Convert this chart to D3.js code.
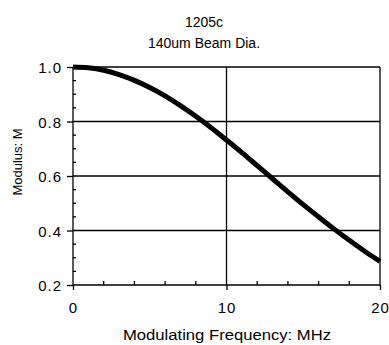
<!DOCTYPE html>
<html>
<head>
<meta charset="utf-8">
<script src="https://cdn.jsdelivr.net/npm/d3@7"></script>
<style>
  body { margin: 0; background: #fff; }
  text { font-family: "Liberation Sans", Arial, sans-serif; fill: #000; }
</style>
</head>
<body>
<div id="chart"></div>
<script>
// data
var freq = [0, 1, 2, 3, 4, 5, 6, 7, 8, 9, 10, 11, 12, 13, 14, 15, 16, 17, 18, 19, 20];
var modulus = [1.0, 0.997, 0.988, 0.972, 0.951, 0.925, 0.894, 0.858, 0.819, 0.777, 0.732,
               0.686, 0.638, 0.590, 0.542, 0.495, 0.450, 0.406, 0.364, 0.324, 0.287];
var xTicks = [0, 10, 20];
var yTicks = [0.2, 0.4, 0.6, 0.8, 1.0];
var xMinor = [2, 4, 6, 8, 12, 14, 16, 18];
var yMinor = [0.25, 0.3, 0.35, 0.45, 0.5, 0.55, 0.65, 0.7, 0.75, 0.85, 0.9, 0.95];
var titleLines = ["1205c", "140um Beam Dia."];

var W = 389, H = 345;
var svg = d3.select("#chart").append("svg").attr("width", W).attr("height", H);

var x = d3.scaleLinear().domain([0, 20]).range([73, 380]);
var y = d3.scaleLinear().domain([0.2, 1.0]).range([285, 67]);

// titles
svg.selectAll("text.title").data(titleLines).enter().append("text")
    .attr("class", "title")
    .attr("x", 204)
    .attr("y", function (d, i) { return 27 + i * 21; })
    .attr("text-anchor", "middle")
    .style("font-size", "14px")
    .text(function (d) { return d; });

// grid lines
svg.selectAll("line.gx").data(xTicks).enter().append("line")
    .attr("x1", function (d) { return x(d); }).attr("x2", function (d) { return x(d); })
    .attr("y1", y(1.0)).attr("y2", y(0.2))
    .attr("stroke", "#000").attr("stroke-width", 1.3);
svg.selectAll("line.gy").data(yTicks).enter().append("line")
    .attr("x1", x(0)).attr("x2", x(20))
    .attr("y1", function (d) { return y(d); }).attr("y2", function (d) { return y(d); })
    .attr("stroke", "#000").attr("stroke-width", 1.3);

// axes: major ticks outside, minor ticks inside
var xAxis = svg.append("g").attr("transform", "translate(0," + y(0.2) + ")")
    .call(d3.axisBottom(x).tickValues(xTicks).tickSize(5).tickPadding(12).tickFormat(d3.format("d")));
var yAxis = svg.append("g").attr("transform", "translate(" + x(0) + ",0)")
    .call(d3.axisLeft(y).tickValues(yTicks).tickSize(6).tickPadding(5).tickFormat(d3.format(".1f")));
[xAxis, yAxis].forEach(function (g) {
    g.select(".domain").remove();
    g.selectAll("line").attr("stroke", "#000").attr("stroke-width", 1.3);
    g.selectAll("text").style("font-size", "15px").style("letter-spacing", "1px")
        .attr("font-family", null);
});
yAxis.selectAll("text").attr("dy", "0.37em");

svg.selectAll("line.mx").data(xMinor).enter().append("line")
    .attr("x1", function (d) { return x(d); }).attr("x2", function (d) { return x(d); })
    .attr("y1", y(0.2)).attr("y2", y(0.2) - 4)
    .attr("stroke", "#000").attr("stroke-width", 1.3);
svg.selectAll("line.my").data(yMinor).enter().append("line")
    .attr("x1", x(0)).attr("x2", x(0) + 3)
    .attr("y1", function (d) { return y(d); }).attr("y2", function (d) { return y(d); })
    .attr("stroke", "#000").attr("stroke-width", 1.3);

// curve
var line = d3.line()
    .x(function (d, i) { return x(freq[i]); })
    .y(function (d) { return y(d); })
    .curve(d3.curveMonotoneX);
svg.append("path").datum(modulus)
    .attr("d", line)
    .attr("fill", "none")
    .attr("stroke", "#000")
    .attr("stroke-width", 5);

// axis titles
svg.append("text")
    .attr("x", 227).attr("y", 340)
    .attr("text-anchor", "middle")
    .attr("textLength", 208).attr("lengthAdjust", "spacingAndGlyphs")
    .style("font-size", "14px")
    .text("Modulating Frequency: MHz");
svg.append("text")
    .attr("transform", "translate(22,162) rotate(-90)")
    .attr("text-anchor", "middle")
    .style("font-size", "13px")
    .text("Modulus: M");
</script>
</body>
</html>
